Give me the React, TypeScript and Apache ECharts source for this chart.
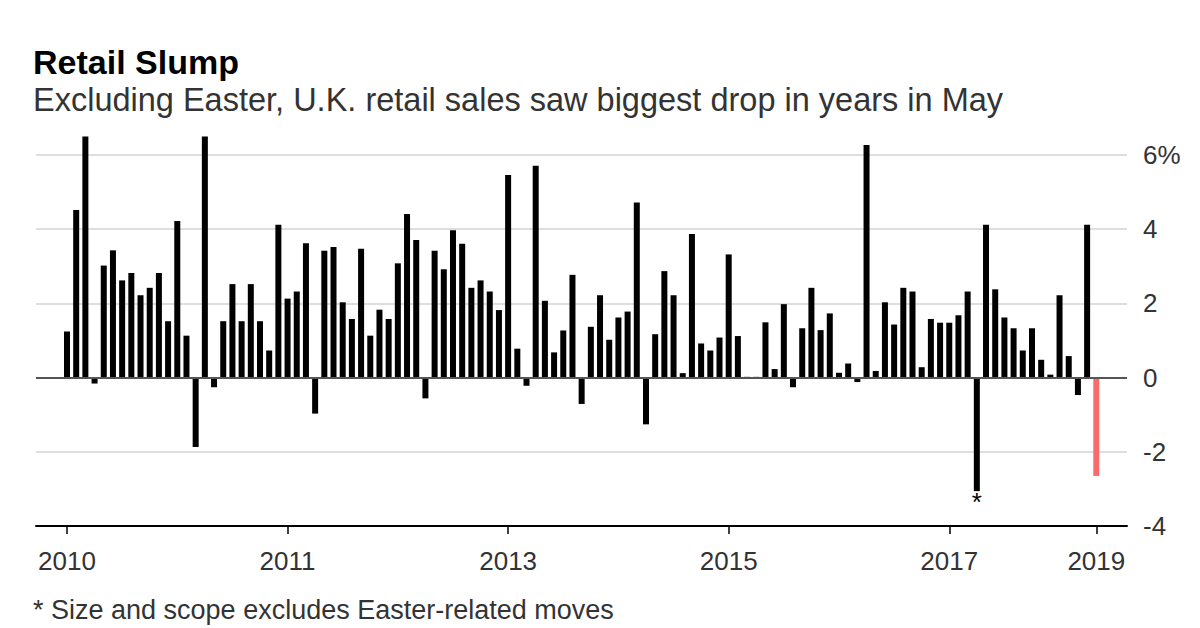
import React, { useEffect, useRef } from "react";
import * as echarts from "echarts";

// Month-over-month % change, Jan 2010 .. May 2019 (113 months)
const values: number[] = [
  1.24, 4.52, 6.5, -0.16, 3.02, 3.43, 2.62, 2.82, 2.22, 2.42, 2.82, 1.52, 4.22, 1.13, -1.87, 6.5, -0.26, 1.52, 2.52,
  1.52, 2.52, 1.52, 0.73, 4.12, 2.13, 2.32, 3.62, -0.97, 3.42, 3.52, 2.03, 1.58, 3.47, 1.13, 1.83, 1.58, 3.08, 4.41,
  3.71, -0.56, 3.42, 2.92, 3.97, 3.61, 2.42, 2.62, 2.32, 1.82, 5.46, 0.78, -0.22, 5.71, 2.07, 0.68, 1.27, 2.77,
  -0.71, 1.37, 2.22, 1.02, 1.62, 1.78, 4.72, -1.26, 1.17, 2.87, 2.22, 0.12, 3.87, 0.92, 0.73, 1.08, 3.32, 1.12,
  0.02, 0.02, 1.49, 0.23, 1.98, -0.26, 1.33, 2.42, 1.28, 1.73, 0.13, 0.38, -0.12, 6.27, 0.18, 2.03, 1.43, 2.42, 2.32,
  0.28, 1.58, 1.48, 1.48, 1.68, 2.32, -3.06, 4.12, 2.38, 1.62, 1.33, 0.73, 1.33, 0.48, 0.08, 2.22, 0.58, -0.47, 4.12, -2.65,
];

const tickIndices: number[] = [0, 24, 48, 72, 96, 112];
const tickLabels: string[] = ["2010", "2011", "2013", "2015", "2017", "2019"];
const starIndex = 99; // footnoted month
const highlightIndex = values.length - 1; // latest month

const title = "Retail Slump";
const subtitle = "Excluding Easter, U.K. retail sales saw biggest drop in years in May";
const footnote = "* Size and scope excludes Easter-related moves";

const FONT = "'Liberation Sans', Arial, Helvetica, sans-serif";

export default function App() {
  const ref = useRef<HTMLDivElement>(null);

  useEffect(() => {
    if (!ref.current) return;
    const chart = echarts.init(ref.current, null, { renderer: "svg" });

    const data = values.map((v, i) => {
      const item: any = {
        value: [i, v],
        itemStyle: { color: i === highlightIndex ? "#f76b6b" : "#000000" },
      };
      if (i === starIndex) {
        item.label = {
          show: true,
          position: "bottom",
          distance: -2,
          formatter: "*",
          fontSize: 26,
          fontFamily: FONT,
          color: "#000",
        };
      }
      return item;
    });

    const labelMap: Record<number, string> = {};
    tickIndices.forEach((t, k) => (labelMap[t] = tickLabels[k]));

    chart.setOption({
      animation: false,
      backgroundColor: "#ffffff",
      grid: { left: 36, right: 73, top: 155, bottom: 102, containLabel: false },
      xAxis: {
        type: "value",
        min: -3.373,
        max: 115.34,
        splitLine: { show: false },
        axisLine: { show: true, onZero: false, lineStyle: { color: "#000", width: 2 } },
        axisTick: {
          show: true,
          customValues: tickIndices,
          length: 8,
          lineStyle: { color: "#000", width: 1.5 },
        },
        axisLabel: {
          show: true,
          customValues: tickIndices,
          formatter: (v: number) => labelMap[Math.round(v)] ?? "",
          fontSize: 26,
          fontFamily: FONT,
          color: "#333",
          margin: 22,
        },
      },
      yAxis: {
        type: "value",
        position: "right",
        min: -4,
        max: 6,
        interval: 2,
        axisLine: { show: false },
        axisTick: { show: false },
        axisLabel: {
          formatter: (v: number) => (v === 6 ? "6%" : String(v)),
          fontSize: 26,
          fontFamily: FONT,
          color: "#333",
          margin: 16,
        },
        splitLine: { show: true, lineStyle: { color: "#dedede", width: 2 } },
      },
      series: [
        {
          type: "bar",
          data,
          barWidth: 6,
          clip: false,
          markLine: {
            silent: true,
            symbol: ["none", "none"],
            label: { show: false },
            lineStyle: { color: "#555", width: 2, type: "solid" },
            data: [{ yAxis: 0 }],
          },
        },
      ],
      graphic: [
        {
          type: "text",
          x: 33,
          y: 62,
          style: { text: title, font: `bold 34px ${FONT}`, fill: "#000", verticalAlign: "middle" },
        },
        {
          type: "text",
          x: 33,
          y: 100,
          style: { text: subtitle, font: `32.5px ${FONT}`, fill: "#333", verticalAlign: "middle" },
        },
        {
          type: "text",
          x: 33,
          y: 610,
          style: { text: footnote, font: `27px ${FONT}`, fill: "#333", verticalAlign: "middle" },
        },
      ],
    });

    return () => chart.dispose();
  }, []);

  return (
    <div
      ref={ref}
      style={{ position: "fixed", left: 0, top: 0, width: 1200, height: 628, background: "#fff" }}
    />
  );
}
